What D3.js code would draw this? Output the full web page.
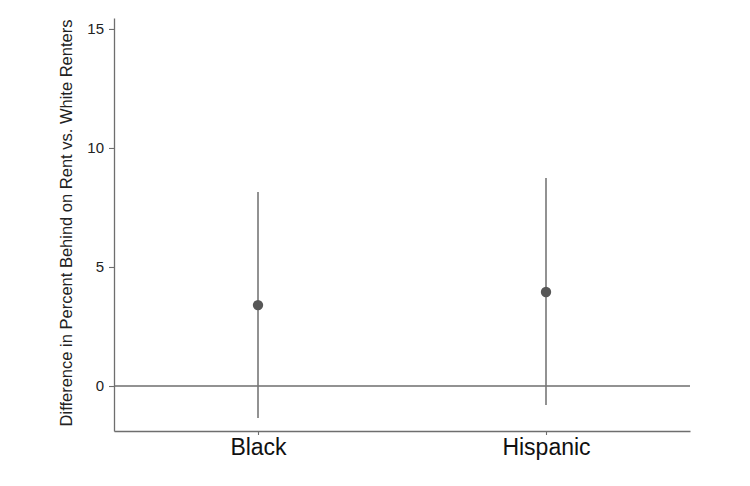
<!DOCTYPE html>
<html>
<head>
<meta charset="utf-8">
<script src="https://cdn.jsdelivr.net/npm/d3@7"></script>
<style>
  body { margin: 0; background: #fff; }
  svg { font-family: "Liberation Sans", Arial, sans-serif; }
</style>
</head>
<body>
<svg id="drawing_region"></svg>
<script>
const groups = ["Black", "Hispanic"];
const estimates = [3.40, 3.95];
const lower = [-1.34, -0.80];
const upper = [8.15, 8.74];
const yTicks = [0, 5, 10, 15];

const config = {
    width: 750,
    height: 486,
    margin: { top: 18, right: 60, bottom: 55, left: 114 }
};

const svg = d3.select('#drawing_region')
    .attr('width', config.width)
    .attr('height', config.height);

const inner_width = config.width - config.margin.left - config.margin.right;
const inner_height = config.height - config.margin.top - config.margin.bottom;

const chart = svg.append('g')
    .attr('transform', `translate(${config.margin.left}, ${config.margin.top})`);

const yscale = d3.scaleLinear()
    .domain([-1.89, 15.46])
    .range([inner_height, 0]);

const xscale = d3.scalePoint()
    .domain(groups)
    .range([0, inner_width])
    .padding(0.5);

const axisColor = '#6e6e6e';

// y axis
const yaxis_group = chart.append('g')
    .call(d3.axisLeft(yscale).tickValues(yTicks).tickSize(5).tickSizeOuter(0).tickPadding(5));
yaxis_group.select('.domain').attr('stroke', axisColor).attr('stroke-width', 1.3);
yaxis_group.selectAll('.tick line').attr('stroke', axisColor).attr('stroke-width', 1.1);
yaxis_group.selectAll('.tick text')
    .attr('fill', '#222')
    .style('font-size', '15px');

// x axis
const xaxis_group = chart.append('g')
    .attr('transform', `translate(0, ${inner_height})`)
    .call(d3.axisBottom(xscale).tickSize(4).tickSizeOuter(0).tickPadding(4));
xaxis_group.select('.domain').attr('stroke', axisColor).attr('stroke-width', 1.3);
xaxis_group.selectAll('.tick line').attr('stroke', axisColor).attr('stroke-width', 1.1);
xaxis_group.selectAll('.tick text')
    .attr('fill', '#111')
    .style('font-size', '23px');

// zero line
chart.append('line')
    .attr('x1', 0)
    .attr('x2', inner_width)
    .attr('y1', yscale(0))
    .attr('y2', yscale(0))
    .attr('stroke', axisColor)
    .attr('stroke-width', 1.4);

// y label
chart.append('text')
    .attr('transform', 'rotate(-90)')
    .attr('x', -(223 - config.margin.top))
    .attr('y', -42)
    .attr('text-anchor', 'middle')
    .attr('fill', '#222')
    .style('font-size', '16.5px')
    .text('Difference in Percent Behind on Rent vs. White Renters');

const rows = groups.map((g, i) => ({ g: g, est: estimates[i], lo: lower[i], hi: upper[i] }));

// confidence intervals
chart.selectAll('line.ci').data(rows).enter()
    .append('line')
    .attr('class', 'ci')
    .attr('x1', d => xscale(d.g))
    .attr('x2', d => xscale(d.g))
    .attr('y1', d => yscale(d.lo))
    .attr('y2', d => yscale(d.hi))
    .attr('stroke', '#777')
    .attr('stroke-width', 1.6);

// point estimates
chart.selectAll('circle').data(rows).enter()
    .append('circle')
    .attr('cx', d => xscale(d.g))
    .attr('cy', d => yscale(d.est))
    .attr('r', 5.2)
    .attr('fill', '#575757');
</script>
</body>
</html>
